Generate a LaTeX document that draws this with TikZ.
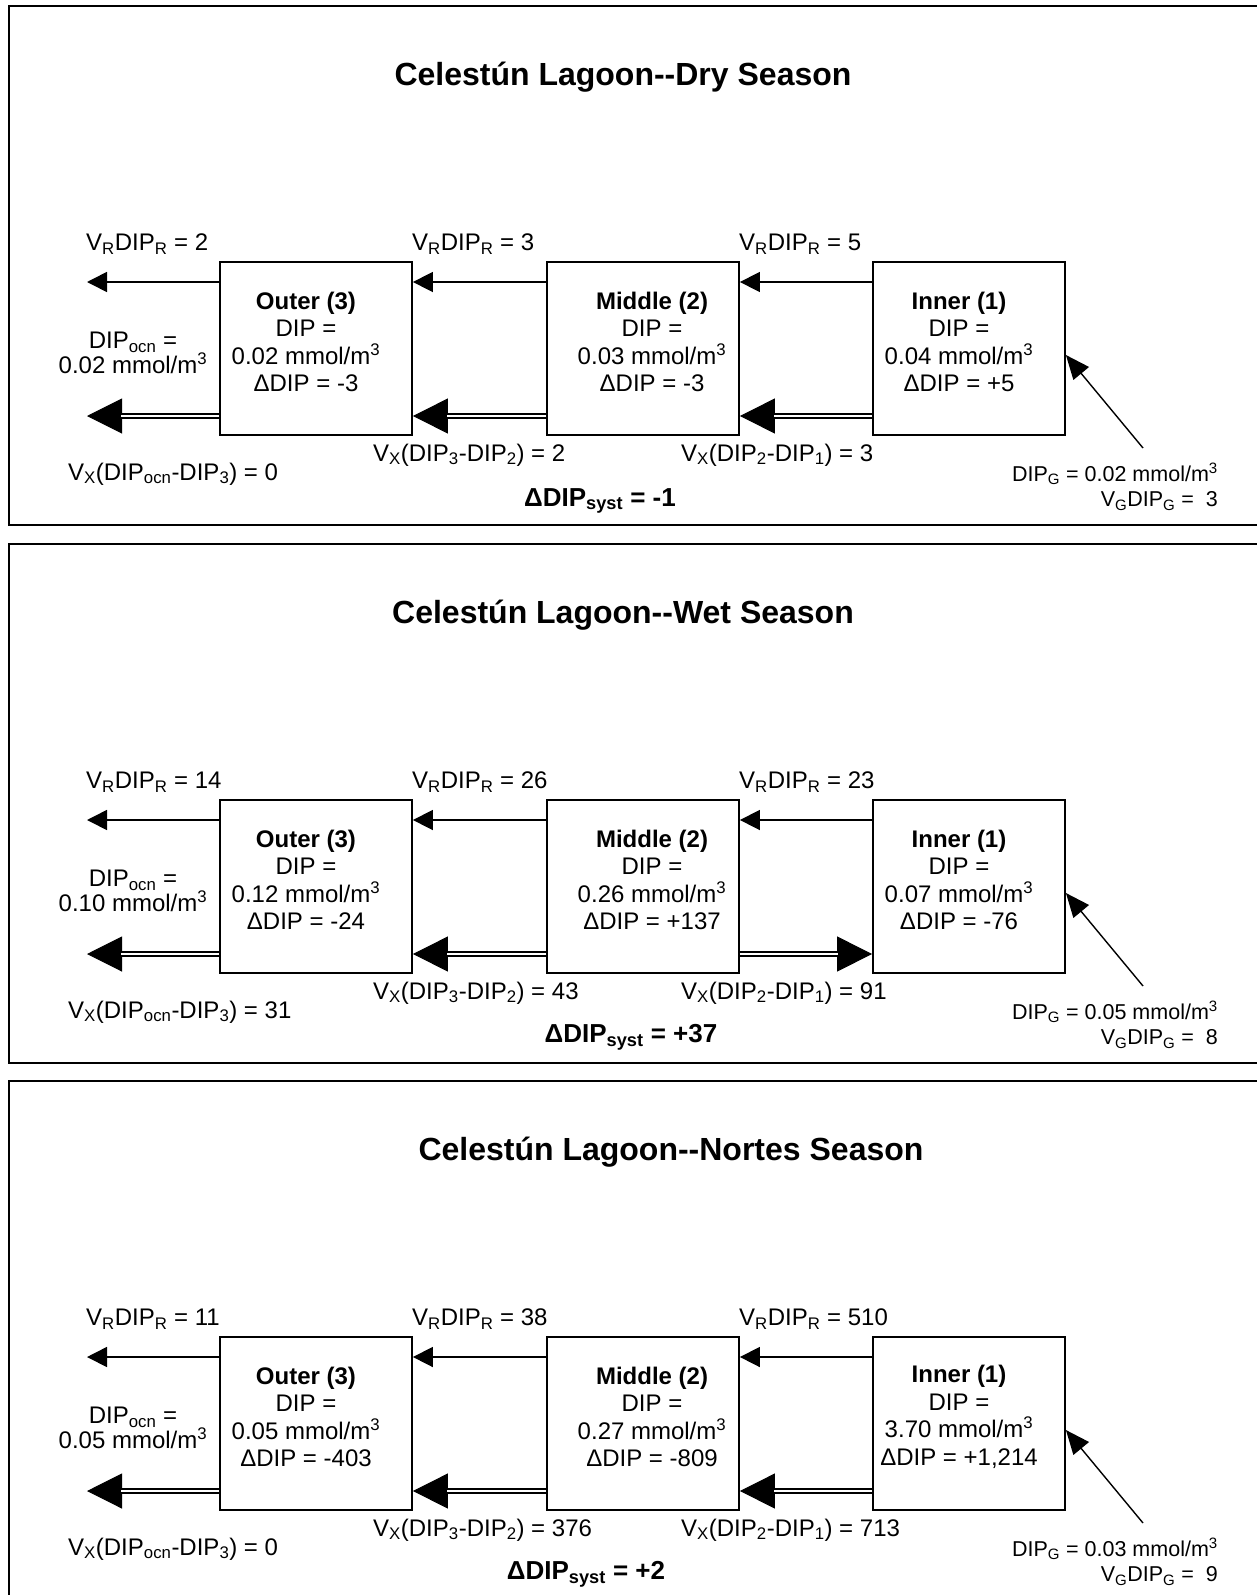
\documentclass[tikz,border=0pt]{standalone}
\usepackage{fontspec}
\setmainfont{Liberation Sans}
\usetikzlibrary{arrows.meta,calc}
\newcommand\sbs[1]{\textsubscript{#1}}
\newcommand\sps[1]{\textsuperscript{#1}}
\newcommand\dd{-\kern0pt-}
\newcommand\fN{\fontsize{24}{27.5}\selectfont}
\newcommand\fS{\fontsize{21.5}{26}\selectfont}
\newcommand\fT{\fontsize{32}{38}\selectfont\bfseries}
\newcommand\fB{\fontsize{26}{30}\selectfont\bfseries}
\tikzset{
  panel/.style={draw, line width=1.8pt},
  cell/.style={draw, line width=1.8pt, minimum width=192pt, minimum height=173pt, inner sep=0pt},
  txt/.style={inner sep=0pt, font=\fN, align=center},
  ocn/.style={inner sep=0pt, font=\fontsize{24}{25.5}\selectfont, align=center},
  small/.style={inner sep=0pt, font=\fS, align=right, anchor=east},
  ttl/.style={inner sep=0pt, font=\fT},
  syst/.style={inner sep=0pt, font=\fB},
  lbl/.style={inner sep=0pt, font=\fN, anchor=west},
  sarr/.style={line width=1.6pt, -{Triangle[length=20pt,width=20pt]}},
  dtip/.style={line width=1pt, -{Triangle[length=35pt,width=35pt]}},
  dline/.style={double, double distance=2pt, line width=2.4pt, shorten >=34pt},
  garr/.style={line width=1.4pt, -{Triangle[length=24pt,width=20pt]}},
}
\begin{document}
\begin{tikzpicture}[x=1pt,y=-1pt]
\useasboundingbox (0,0) rectangle (1256,1595);

% ================= Panel 1: Dry =================
\begin{scope}[shift={(0,0)}]
\draw[panel] (9,6) rectangle (1275,525);
\node[ttl] (t1) at (623,77) {Celestún Lagoon\dd Dry Season};
\node[cell] (o1) at (316,348.5) {};
\node[cell] (m1) at (643,348.5) {};
\node[cell] (i1) at (969,348.5) {};
\node[txt] (ot1) at (306,342) {\textbf{Outer (3)}\\DIP =\\0.02 mmol/m\sps{3}\\ΔDIP = -3};
\node[txt] (mt1) at (652,342) {\textbf{Middle (2)}\\DIP =\\0.03 mmol/m\sps{3}\\ΔDIP = -3};
\node[txt] (it1) at (959,342) {\textbf{Inner (1)}\\DIP =\\0.04 mmol/m\sps{3}\\ΔDIP = +5};
\coordinate (r1) at (0,282);
\coordinate (x1) at (0,416);
\coordinate (er1) at (87,282);
\coordinate (ex1) at (87,416);
\coordinate (g1) at (1143,448);
\draw[sarr] (o1.west |- r1) -- (er1);
\draw[sarr] (m1.west |- r1) -- (o1.east |- r1);
\draw[sarr] (i1.west |- r1) -- (m1.east |- r1);
\draw[dtip] (o1.west |- x1) -- (ex1);
\draw[dline] (o1.west |- x1) -- (ex1);
\draw[dtip] (m1.west |- x1) -- (o1.east |- x1);
\draw[dline] (m1.west |- x1) -- (o1.east |- x1);
\draw[dtip] (i1.west |- x1) -- (m1.east |- x1);
\draw[dline] (i1.west |- x1) -- (m1.east |- x1);
\draw[garr] (g1) -- ([yshift=-6.5pt]i1.east);
\node[lbl] (la1) at (86,244) {V\sbs{R}DIP\sbs{R} = 2};
\node[lbl] (lb1) at (412,244) {V\sbs{R}DIP\sbs{R} = 3};
\node[lbl] (lc1) at (739,244) {V\sbs{R}DIP\sbs{R} = 5};
\node[ocn] (oc1) at (133,353) {DIP\sbs{ocn} =\\0.02 mmol/m\sps{3}};
\node[lbl] (xa1) at (68,474) {V\sbs{X}(DIP\sbs{ocn}-DIP\sbs{3}) = 0};
\node[lbl] (xb1) at (373,455) {V\sbs{X}(DIP\sbs{3}-DIP\sbs{2}) = 2};
\node[lbl] (xc1) at (681,455) {V\sbs{X}(DIP\sbs{2}-DIP\sbs{1}) = 3};
\node[small] (ga1) at (1218,474) {DIP\sbs{G} = 0.02 mmol/m\sps{3}};
\node[small] (gb1) at (1218,501) {V\sbs{G}DIP\sbs{G} = \ 3};
\node[syst] (s1) at (600,501) {ΔDIP\sbs{syst} = -1};
\end{scope}

% ================= Panel 2: Wet =================
\begin{scope}[shift={(0,538)}]
\draw[panel] (9,6) rectangle (1275,525);
\node[ttl] (t2) at (623,77) {Celestún Lagoon\dd Wet Season};
\node[cell] (o2) at (316,348.5) {};
\node[cell] (m2) at (643,348.5) {};
\node[cell] (i2) at (969,348.5) {};
\node[txt] (ot2) at (306,342) {\textbf{Outer (3)}\\DIP =\\0.12 mmol/m\sps{3}\\ΔDIP = -24};
\node[txt] (mt2) at (652,342) {\textbf{Middle (2)}\\DIP =\\0.26 mmol/m\sps{3}\\ΔDIP = +137};
\node[txt] (it2) at (959,342) {\textbf{Inner (1)}\\DIP =\\0.07 mmol/m\sps{3}\\ΔDIP = -76};
\coordinate (r2) at (0,282);
\coordinate (x2) at (0,416);
\coordinate (er2) at (87,282);
\coordinate (ex2) at (87,416);
\coordinate (g2) at (1143,448);
\draw[sarr] (o2.west |- r2) -- (er2);
\draw[sarr] (m2.west |- r2) -- (o2.east |- r2);
\draw[sarr] (i2.west |- r2) -- (m2.east |- r2);
\draw[dtip] (o2.west |- x2) -- (ex2);
\draw[dline] (o2.west |- x2) -- (ex2);
\draw[dtip] (m2.west |- x2) -- (o2.east |- x2);
\draw[dline] (m2.west |- x2) -- (o2.east |- x2);
\draw[dtip] (m2.east |- x2) -- (i2.west |- x2);
\draw[dline] (m2.east |- x2) -- (i2.west |- x2);
\draw[garr] (g2) -- ([yshift=-6.5pt]i2.east);
\node[lbl] (la2) at (86,244) {V\sbs{R}DIP\sbs{R} = 14};
\node[lbl] (lb2) at (412,244) {V\sbs{R}DIP\sbs{R} = 26};
\node[lbl] (lc2) at (739,244) {V\sbs{R}DIP\sbs{R} = 23};
\node[ocn] (oc2) at (133,353) {DIP\sbs{ocn} =\\0.10 mmol/m\sps{3}};
\node[lbl] (xa2) at (68,474) {V\sbs{X}(DIP\sbs{ocn}-DIP\sbs{3}) = 31};
\node[lbl] (xb2) at (373,455) {V\sbs{X}(DIP\sbs{3}-DIP\sbs{2}) = 43};
\node[lbl] (xc2) at (681,455) {V\sbs{X}(DIP\sbs{2}-DIP\sbs{1}) = 91};
\node[small] (ga2) at (1218,474) {DIP\sbs{G} = 0.05 mmol/m\sps{3}};
\node[small] (gb2) at (1218,501) {V\sbs{G}DIP\sbs{G} = \ 8};
\node[syst] (s2) at (631,499) {ΔDIP\sbs{syst} = +37};
\end{scope}

% ================= Panel 3: Nortes =================
\begin{scope}[shift={(0,1075)}]
\draw[panel] (9,6) rectangle (1275,530);
\node[ttl] (t3) at (671,77) {Celestún Lagoon\dd Nortes Season};
\node[cell] (o3) at (316,348.5) {};
\node[cell] (m3) at (643,348.5) {};
\node[cell] (i3) at (969,348.5) {};
\node[txt] (ot3) at (306,342) {\textbf{Outer (3)}\\DIP =\\0.05 mmol/m\sps{3}\\ΔDIP = -403};
\node[txt] (mt3) at (652,342) {\textbf{Middle (2)}\\DIP =\\0.27 mmol/m\sps{3}\\ΔDIP = -809};
\node[txt] (it3) at (959,342) {\textbf{Inner (1)}\\DIP =\\3.70 mmol/m\sps{3}\\ΔDIP = +1,214};
\coordinate (r3) at (0,282);
\coordinate (x3) at (0,416);
\coordinate (er3) at (87,282);
\coordinate (ex3) at (87,416);
\coordinate (g3) at (1143,448);
\draw[sarr] (o3.west |- r3) -- (er3);
\draw[sarr] (m3.west |- r3) -- (o3.east |- r3);
\draw[sarr] (i3.west |- r3) -- (m3.east |- r3);
\draw[dtip] (o3.west |- x3) -- (ex3);
\draw[dline] (o3.west |- x3) -- (ex3);
\draw[dtip] (m3.west |- x3) -- (o3.east |- x3);
\draw[dline] (m3.west |- x3) -- (o3.east |- x3);
\draw[dtip] (i3.west |- x3) -- (m3.east |- x3);
\draw[dline] (i3.west |- x3) -- (m3.east |- x3);
\draw[garr] (g3) -- ([yshift=-6.5pt]i3.east);
\node[lbl] (la3) at (86,244) {V\sbs{R}DIP\sbs{R} = 11};
\node[lbl] (lb3) at (412,244) {V\sbs{R}DIP\sbs{R} = 38};
\node[lbl] (lc3) at (739,244) {V\sbs{R}DIP\sbs{R} = 510};
\node[ocn] (oc3) at (133,353) {DIP\sbs{ocn} =\\0.05 mmol/m\sps{3}};
\node[lbl] (xa3) at (68,474) {V\sbs{X}(DIP\sbs{ocn}-DIP\sbs{3}) = 0};
\node[lbl] (xb3) at (373,455) {V\sbs{X}(DIP\sbs{3}-DIP\sbs{2}) = 376};
\node[lbl] (xc3) at (681,455) {V\sbs{X}(DIP\sbs{2}-DIP\sbs{1}) = 713};
\node[small] (ga3) at (1218,474) {DIP\sbs{G} = 0.03 mmol/m\sps{3}};
\node[small] (gb3) at (1218,501) {V\sbs{G}DIP\sbs{G} = \ 9};
\node[syst] (s3) at (586,499) {ΔDIP\sbs{syst} = +2};
\end{scope}
\end{tikzpicture}
\end{document}
